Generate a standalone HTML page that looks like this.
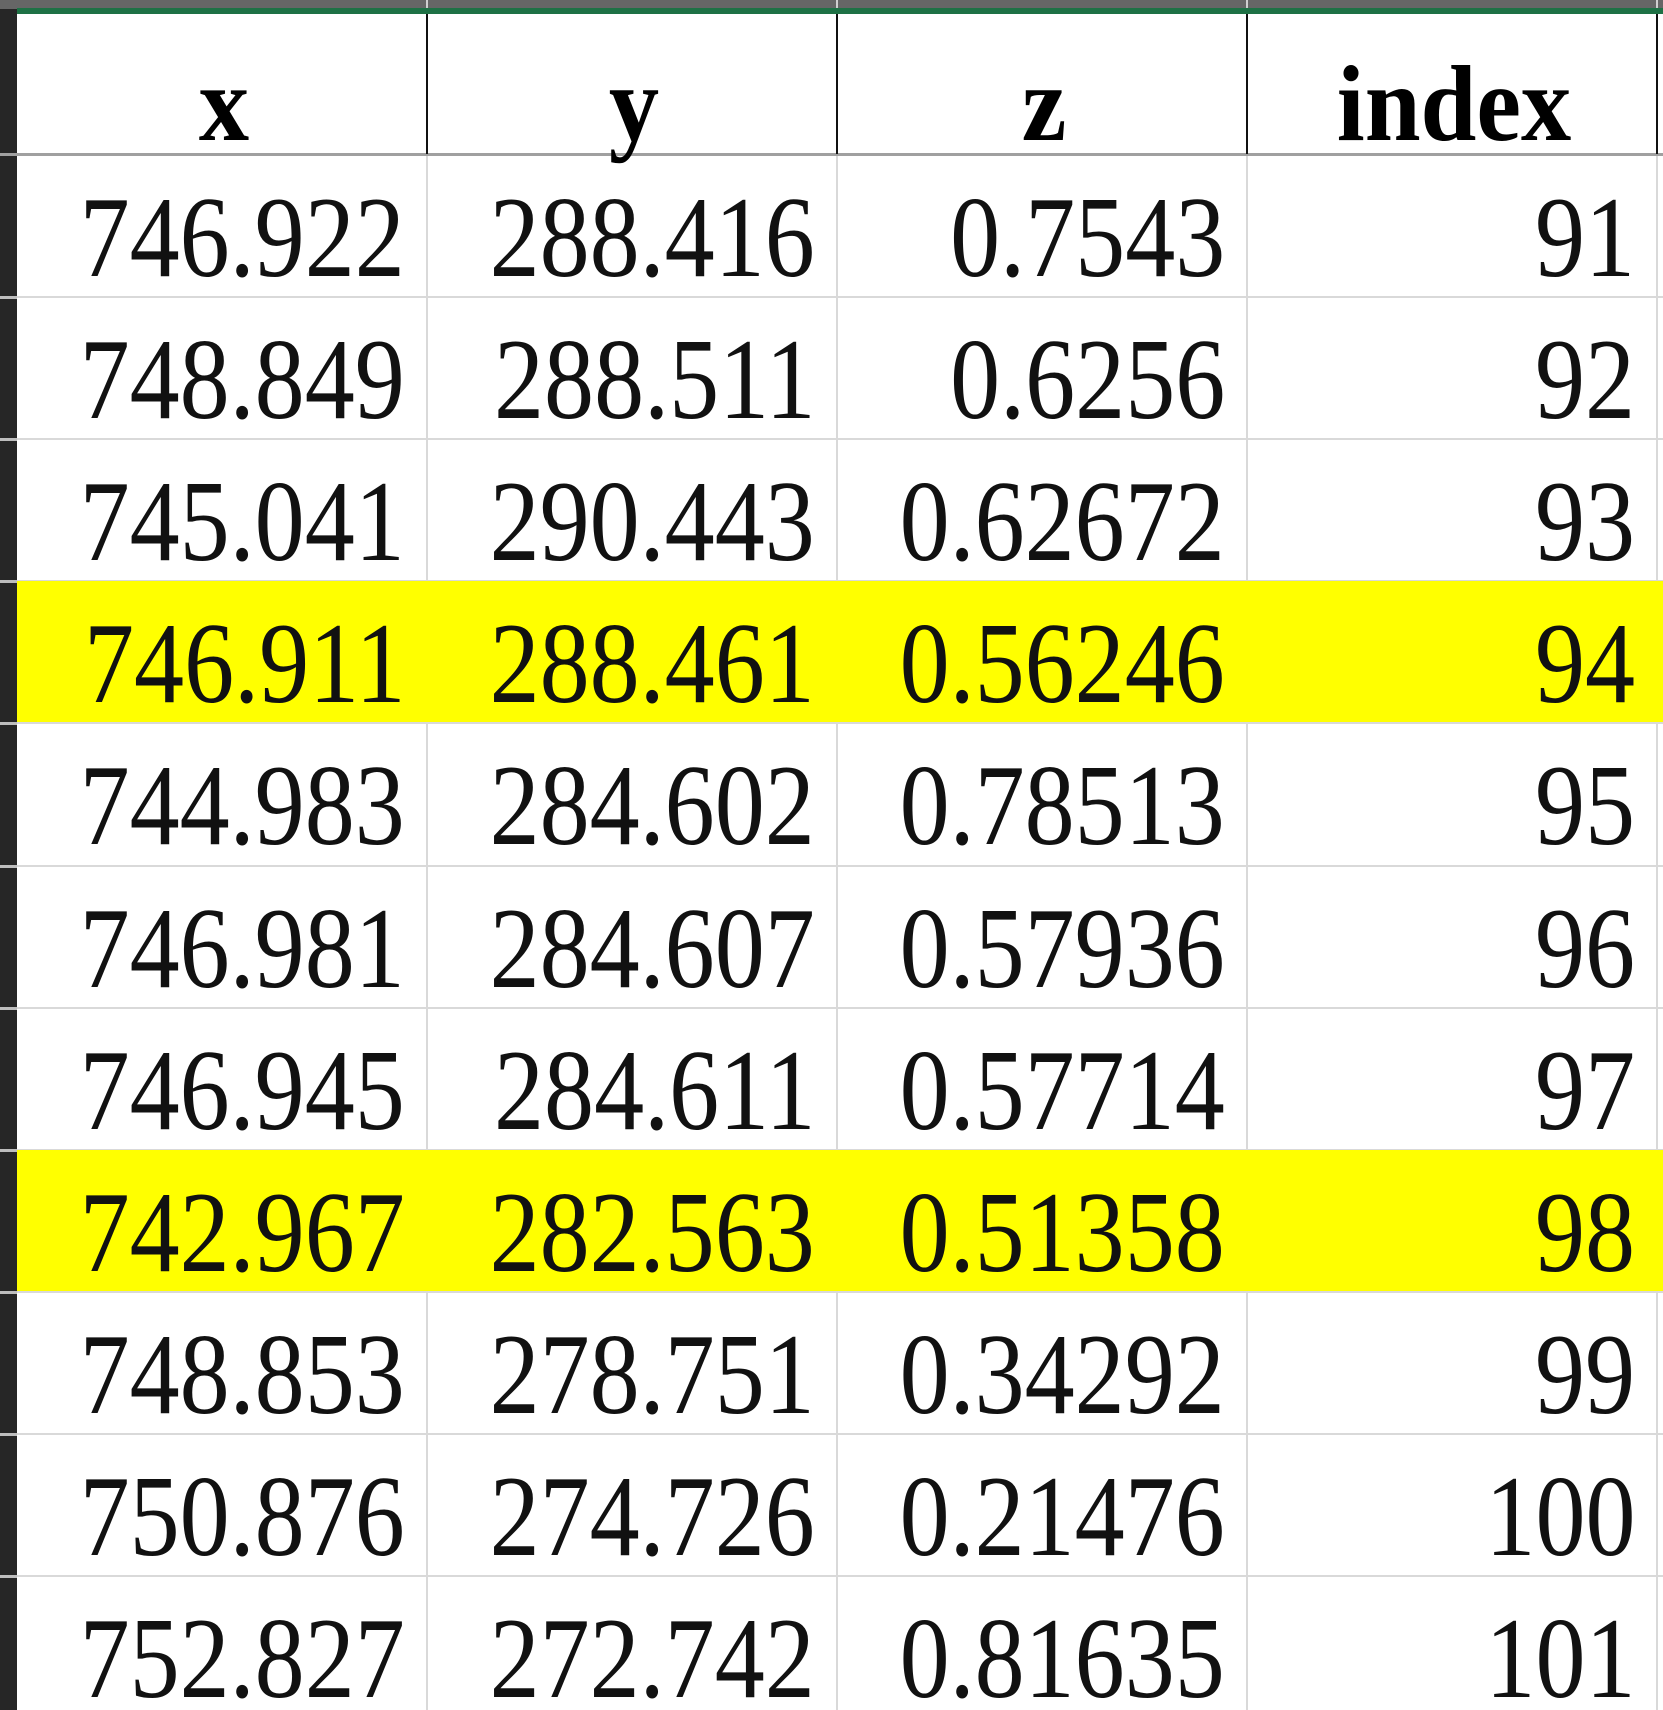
<!DOCTYPE html>
<html><head><meta charset="utf-8"><style>
html,body{margin:0;padding:0;background:#fff;}
#sheet{position:relative;width:1663px;height:1710px;overflow:hidden;background:#fff;font-family:"Liberation Serif",serif;color:#111;}
.abs{position:absolute;}
.cell{position:absolute;height:142px;box-sizing:border-box;}
.num{position:absolute;right:22px;top:0;font-size:115px;line-height:1;white-space:nowrap;transform:scaleX(0.87);transform-origin:right top;}
.hdr{position:absolute;font-weight:bold;font-size:108px;line-height:1;white-space:nowrap;transform:translateX(-50%) scaleX(0.93);color:#000;}
</style></head><body>
<div id="sheet">
  <div class="abs" style="left:0;top:0;width:1663px;height:9px;background:#666;"></div>
  <div class="abs" style="left:17px;top:8px;width:1646px;height:6px;background:#1e7145;"></div>
  <div class="abs" style="left:0;top:9px;width:17px;height:1701px;background:#262626;"></div>
  <div class="abs" style="left:17px;top:14px;width:1646px;height:141px;background:#fff;"></div>
  <div class="abs" style="left:0;top:153px;width:1663px;height:3px;background:#a0a0a0;"></div>
</div>
<script>
const headers = ["x","y","z","index"];
const colX = ["746.922","748.849","745.041","746.911","744.983","746.981","746.945","742.967","748.853","750.876","752.827"];
const colY = ["288.416","288.511","290.443","288.461","284.602","284.607","284.611","282.563","278.751","274.726","272.742"];
const colZ = ["0.7543","0.6256","0.62672","0.56246","0.78513","0.57936","0.57714","0.51358","0.34292","0.21476","0.81635"];
const colIdx = ["91","92","93","94","95","96","97","98","99","100","101"];
const highlighted = [94, 98];

const sheet = document.getElementById('sheet');
const L = 17, W = 410, TOP = 155, RH = 142.1;
const cols = [colX, colY, colZ, colIdx];

headers.forEach((h, c) => {
  const d = document.createElement('div');
  d.className = 'hdr';
  
  
  d.style.left = (L + c * W + W / 2 + 2) + 'px';
  d.style.top = (137 - 86) + 'px';
  d.textContent = h;
  sheet.appendChild(d);
});

// vertical gridlines (drawn first so yellow rows cover them)
for (let c = 1; c <= 4; c++) {
  const x = L + c * W;
  const hv = document.createElement('div');
  hv.className = 'abs';
  
  
  hv.style.left = (x - 1) + 'px';
  hv.style.top = '14px';
  hv.style.width = '2px';
  hv.style.height = '140px';
  hv.style.background = '#111';
  sheet.appendChild(hv);
  const dv = document.createElement('div');
  dv.className = 'abs';
  
  
  dv.style.left = (x - 1) + 'px';
  dv.style.top = '156px';
  dv.style.width = '2px';
  dv.style.height = '1560px';
  dv.style.background = '#d9d9d9';
  sheet.appendChild(dv);
  const tb = document.createElement('div');
  tb.className = 'abs';
  
  
  tb.style.left = (x - 1) + 'px';
  tb.style.top = '0px';
  tb.style.width = '2px';
  tb.style.height = '8px';
  tb.style.background = '#d0d0d0';
  sheet.appendChild(tb);
}

colIdx.forEach((idx, r) => {
  const top = TOP + r * RH;
  const row = document.createElement('div');
  row.className = 'abs';
  
  
  row.style.left = L + 'px';
  row.style.top = top + 'px';
  row.style.width = (1663 - L) + 'px';
  row.style.height = RH + 'px';
  if (highlighted.includes(Number(idx))) row.style.background = '#ffff00';
  sheet.appendChild(row);
  cols.forEach((col, c) => {
    const cell = document.createElement('div');
    cell.className = 'cell';
    
    
    cell.style.left = (c * W) + 'px';
    cell.style.top = '0px';
    cell.style.width = W + 'px';
    const t = document.createElement('span');
    t.className = 'num';
    t.style.top = (117 - 92) + 'px';
    t.textContent = col[r];
    cell.appendChild(t);
    row.appendChild(cell);
  });
  const hl = document.createElement('div');
  hl.className = 'abs';
  
  
  hl.style.left = L + 'px';
  hl.style.top = (top + RH - 1) + 'px';
  hl.style.width = (1663 - L) + 'px';
  hl.style.height = '2px';
  hl.style.background = '#d9d9d9';
  sheet.appendChild(hl);
  const tk = document.createElement('div');
  tk.className = 'abs';
  
  
  tk.style.left = '0px';
  tk.style.top = (top + RH - 1) + 'px';
  tk.style.width = '17px';
  tk.style.height = '3px';
  tk.style.background = '#bdbdbd';
  sheet.appendChild(tk);
});
</script>
</body></html>
